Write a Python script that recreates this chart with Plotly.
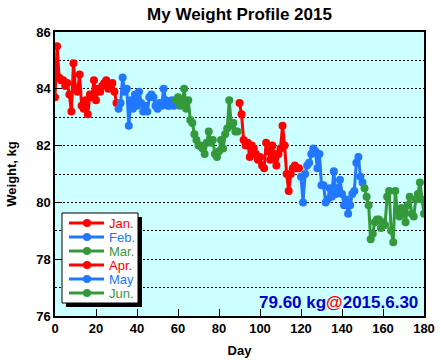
import plotly.graph_objects as go

# ---- data (day index 0 = Jan 1) ----
jan_w = [83.7, 85.5, 84.4, 84.3, 84.3, 84.1, 84.2, 83.8, 83.2, 84.9, 84.0, 83.9, 84.5, 83.4, 83.3, 83.6,
         83.1, 83.8, 83.7, 84.3, 83.6, 84.0, 83.9, 84.1, 84.2, 84.3, 84.0, 84.1, 84.2, 83.9, 83.5]
feb_w = [83.3, 83.5, 84.4, 83.9, 84.0, 82.7, 83.6, 83.3, 83.8, 83.4, 83.9, 83.5, 83.2, 83.4, 83.2, 83.7,
         83.8, 83.7, 83.4, 83.3, 83.5, 83.4, 84.0, 83.6, 83.4, 83.4, 83.6, 83.4]
mar_w = [83.6, 83.7, 83.4, 83.5, 84.0, 83.3, 83.6, 82.9, 82.8, 82.4, 82.2, 82.0, 82.0, 81.9, 81.7, 82.1,
         82.5, 82.1, 82.2, 81.7, 81.6, 81.8, 82.2, 81.9, 82.4, 82.6, 83.6, 82.7, 82.8, 82.5, 82.5]
apr_w = [83.5, 83.1, 82.2, 82.0, 82.1, 81.6, 82.0, 81.9, 81.7, 81.5, 81.6, 81.3, 81.2, 82.1, 81.8, 81.5,
         82.0, 81.7, 81.3, 81.7, 81.9, 82.7, 82.0, 81.0, 80.4, 81.0, 81.2, 81.3, 81.2, 81.2]
may_w = [80.9, 80.0, 81.0, 81.3, 81.4, 81.7, 81.9, 81.8, 81.2, 81.7, 80.6, 80.6, 80.0, 80.1, 80.5, 80.2,
         81.1, 80.3, 80.5, 80.8, 80.3, 79.9, 80.1, 79.6, 79.9, 80.3, 80.4, 81.4, 81.6, 80.9, 80.7]
jun_w = [80.5, 80.2, 79.9, 78.7, 78.9, 79.3, 79.4, 79.4, 79.1, 79.3, 79.2, 80.2, 80.4, 79.0, 78.6, 80.4,
         79.7, 79.5, 79.8, 79.7, 79.3, 79.9, 80.2, 79.6, 79.5, 80.1, 80.3, 80.7, 80.1, 79.6]

month_names = ["Jan.", "Feb.", "Mar.", "Apr.", "May", "Jun."]
month_series = [jan_w, feb_w, mar_w, apr_w, may_w, jun_w]
month_colors = ["#FF0000", "#2277FF", "#33993A", "#FF0000", "#2277FF", "#33993A"]

x_ticks = [0, 20, 40, 60, 80, 100, 120, 140, 160, 180]
y_ticks = [76, 78, 80, 82, 84, 86]
last_label = ("79.60 kg", "2015.6.30")

FONT = "Liberation Sans, Arial, Helvetica, sans-serif"

fig = go.Figure()
start = 0
for name, vals, col in zip(month_names, month_series, month_colors):
    days = list(range(start, start + len(vals)))
    start += len(vals)
    fig.add_trace(go.Scatter(x=days, y=vals, mode="lines+markers", name=name,
                             line=dict(color=col, width=3),
                             marker=dict(color=col, size=8),
                             showlegend=False, hoverinfo="skip"))

W, H = 441, 364
L, R, T, B = 55, 17, 32, 48
pw, ph = W - L - R, H - T - B


def px(xp):
    return (xp - L) / pw


def py(yp):
    return (H - B - yp) / ph


shapes = []
annotations = []
# legend box with shadow
lx0, lx1, ly0, ly1 = 62, 138, 213, 303
shapes.append(dict(type="rect", xref="paper", yref="paper", x0=px(lx0 + 4), x1=px(lx1 + 4),
                   y0=py(ly1 + 4), y1=py(ly0 + 4), fillcolor="black", line=dict(width=0), layer="above"))
shapes.append(dict(type="rect", xref="paper", yref="paper", x0=px(lx0), x1=px(lx1),
                   y0=py(ly1), y1=py(ly0), fillcolor="white", line=dict(color="black", width=1), layer="above"))
for i, (name, col) in enumerate(zip(month_names, month_colors)):
    yc = 223 + 14 * i
    shapes.append(dict(type="line", xref="paper", yref="paper", x0=px(69), x1=px(104), y0=py(yc), y1=py(yc),
                       line=dict(color=col, width=3), layer="above"))
    shapes.append(dict(type="circle", xref="paper", yref="paper", xsizemode="pixel", ysizemode="pixel",
                       xanchor=px(87), yanchor=py(yc), x0=-4, x1=4, y0=-4, y1=4,
                       fillcolor=col, line=dict(width=0), layer="above"))
    annotations.append(dict(xref="paper", yref="paper", x=px(107), y=py(yc), xanchor="left", yanchor="middle",
                            text=name, showarrow=False, font=dict(family=FONT, size=13, color=col)))

annotations.append(dict(xref="paper", yref="paper", x=px(420), y=py(302), xanchor="right", yanchor="middle",
                        showarrow=False,
                        text="<b>%s<span style='color:#FF0000'>@</span>%s</b>" % last_label,
                        font=dict(family=FONT, size=17, color="#0000CC")))

fig.update_layout(
    width=W, height=H,
    margin=dict(l=L, r=R, t=T, b=B, autoexpand=False),
    paper_bgcolor="white",
    plot_bgcolor="#CCFFFF",
    title=dict(text="<b>My Weight Profile 2015</b>", x=(L + pw / 2) / W, xanchor="center",
               y=1 - 14 / H, yanchor="middle", font=dict(family=FONT, size=17, color="black")),
    font=dict(family=FONT, size=13, color="black"),
    shapes=shapes,
    annotations=annotations,
    showlegend=False,
    hovermode=False,
)
fig.update_xaxes(range=[0, 180], tickvals=x_ticks, ticktext=["<b>%d</b>" % v for v in x_ticks],
                 ticks="inside", ticklen=7, tickcolor="black", showgrid=False, zeroline=False,
                 showline=True, linecolor="black", linewidth=1.5, mirror=True,
                 automargin=False,
                 title=dict(text="<b>Day</b>", font=dict(family=FONT, size=13), standoff=11),
                 tickfont=dict(family=FONT, size=13))
fig.update_yaxes(range=[76, 86], tickvals=y_ticks, ticktext=["<b>%d</b>" % v for v in y_ticks],
                 ticks="inside", ticklen=7, tickcolor="black", zeroline=False,
                 showgrid=True, gridcolor="black", griddash="2px,2px", gridwidth=1,
                 minor=dict(dtick=1, tick0=76, showgrid=True, gridcolor="black", griddash="2px,2px", gridwidth=1),
                 showline=True, linecolor="black", linewidth=1.5, mirror=True,
                 automargin=False,
                 title=dict(text="<b>Weight, kg</b>", font=dict(family=FONT, size=13), standoff=17),
                 tickfont=dict(family=FONT, size=13))

fig.write_html("out.html", config={"displayModeBar": False},
               post_script="document.body.style.margin='0';")
